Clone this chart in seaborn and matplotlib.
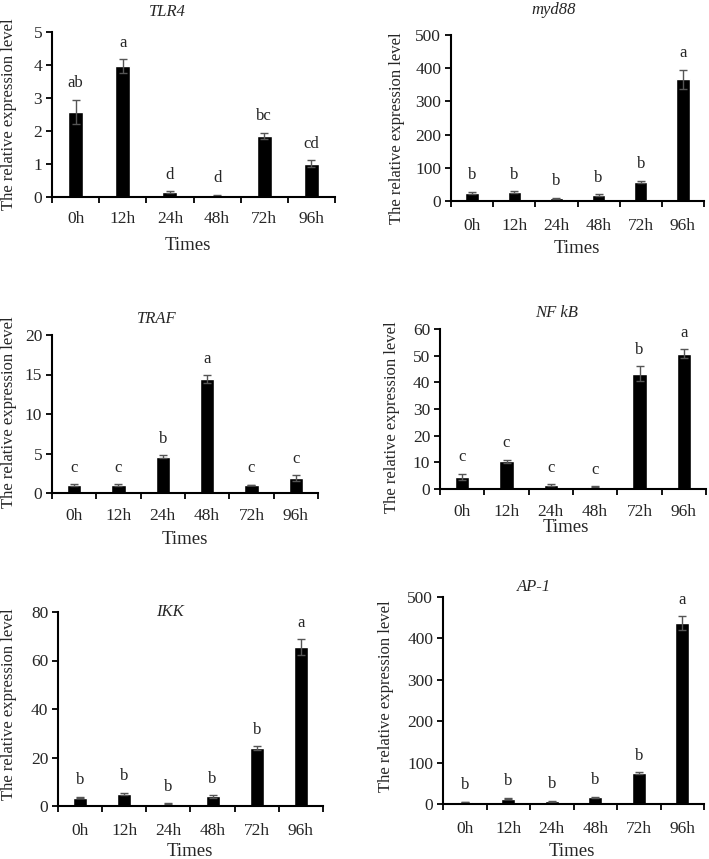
import matplotlib
matplotlib.use("Agg")
import matplotlib.pyplot as plt
import seaborn as sns
import pandas as pd
import numpy as np

times = ["0h", "12h", "24h", "48h", "72h", "96h"]

tlr4 = [2.58, 3.97, 0.14, 0.05, 1.86, 1.01]
tlr4_err = [0.37, 0.20, 0.03, 0.02, 0.09, 0.10]
tlr4_let = ["ab", "a", "d", "d", "bc", "cd"]

myd88 = [25, 27, 8, 17, 57, 366]
myd88_err = [3, 3, 2, 3, 4, 30]
myd88_let = ["b", "b", "b", "b", "b", "a"]

traf = [1.0, 1.0, 4.6, 14.4, 1.0, 1.9]
traf_err = [0.1, 0.15, 0.2, 0.5, 0.05, 0.35]
traf_let = ["c", "c", "b", "a", "c", "c"]

nfkb = [4.5, 10.4, 1.5, 0.8, 43.2, 50.8]
nfkb_err = [1.3, 0.6, 0.2, 0.2, 2.8, 1.6]
nfkb_let = ["c", "c", "c", "c", "b", "a"]

ikk = [3.5, 5.0, 1.0, 4.0, 24.0, 65.5]
ikk_err = [0.3, 0.5, 0.2, 0.6, 0.8, 3.3]
ikk_let = ["b", "b", "b", "b", "b", "a"]

ap1 = [5, 13, 7, 16, 75, 437]
ap1_err = [1, 2, 1, 2, 2, 17]
ap1_let = ["b", "b", "b", "b", "b", "a"]

genes = ["TLR4", "myd88", "TRAF", "NF kB", "IKK", "AP-1"]
ymax = [5, 500, 20, 60, 80, 500]
ystep = [1, 100, 5, 10, 20, 100]

sns.set_theme(style="white")
plt.rcParams["font.family"] = ["Liberation Serif", "DejaVu Serif"]

W, H = 709, 859
fig = plt.figure(figsize=(W / 100, H / 100), dpi=100)

# panel rects in pixels: left, top, right, bottom
rects = [(52, 32, 335, 197), (451, 35, 704, 201),
         (52, 335, 318, 493), (440, 329, 706, 489),
         (58, 612, 323, 806), (443, 597, 704, 804)]
title_pos = [(167, 12), (554, 10), (157, 319), (557, 313), (170, 612), (534, 587)]
xlab_pos = [(188, 245), (577, 248), (185, 540), (566, 528), (190, 851), (572, 851)]
ylab_pos = [(9, 114), (397, 128), (9, 412), (392, 417), (9, 704), (386, 696)]
tick_pad = [10, 12, 11, 11, 12, 12]

data = [(tlr4, tlr4_err, tlr4_let), (myd88, myd88_err, myd88_let),
        (traf, traf_err, traf_let), (nfkb, nfkb_err, nfkb_let),
        (ikk, ikk_err, ikk_let), (ap1, ap1_err, ap1_let)]

for i, (vals, errs, lets) in enumerate(data):
    l, t, r, b = rects[i]
    ax = fig.add_axes([l / W, 1 - b / H, (r - l) / W, (b - t) / H])
    df = pd.DataFrame({"Time": times, "Level": vals})
    sns.barplot(data=df, x="Time", y="Level", color="black", width=0.32,
                errorbar=None, ax=ax, saturation=1)
    x = np.arange(len(times))
    ax.errorbar(x, vals, yerr=errs, fmt="none", ecolor="#555555",
                elinewidth=1.0, capsize=3, capthick=1.0)
    for xi, v, e, lt in zip(x, vals, errs, lets):
        ax.annotate(lt, xy=(xi, v + e), xytext=(0, 6), textcoords="offset points",
                    ha="center", va="bottom", fontsize=12)
    ax.set_xlim(-0.5, len(times) - 0.5)
    ax.set_ylim(0, ymax[i])
    ax.set_yticks(np.arange(0, ymax[i] + ystep[i] / 2, ystep[i]))
    ax.set_xlabel("")
    ax.set_ylabel("")
    ax.set_xticks(x)
    ax.set_xticklabels(times)
    ax.set_xticks(np.arange(-0.5, len(times), 1.0), minor=True)
    ax.tick_params(axis="x", which="major", length=0, pad=tick_pad[i], labelsize=12.5)
    ax.tick_params(axis="x", which="minor", length=4, width=1.3, direction="out",
                   color="black", bottom=True)
    ax.tick_params(axis="y", length=4, width=1.3, direction="out", color="black",
                   left=True, labelsize=12.5, pad=3)
    for s in ["top", "right"]:
        ax.spines[s].set_visible(False)
    for s in ["left", "bottom"]:
        ax.spines[s].set_color("black")
        ax.spines[s].set_linewidth(1.5)
    tx, ty = title_pos[i]
    fig.text(tx / W, 1 - ty / H, genes[i], style="italic", fontsize=12,
             ha="center", va="center")
    xx, xy = xlab_pos[i]
    fig.text(xx / W, 1 - xy / H, "Times", fontsize=13.5, ha="center", va="center")
    yx, yy = ylab_pos[i]
    fig.text(yx / W, 1 - yy / H, "The relative expression level", fontsize=12,
             rotation=90, ha="center", va="center")

fig.savefig("out.png", dpi=100, facecolor="white")
